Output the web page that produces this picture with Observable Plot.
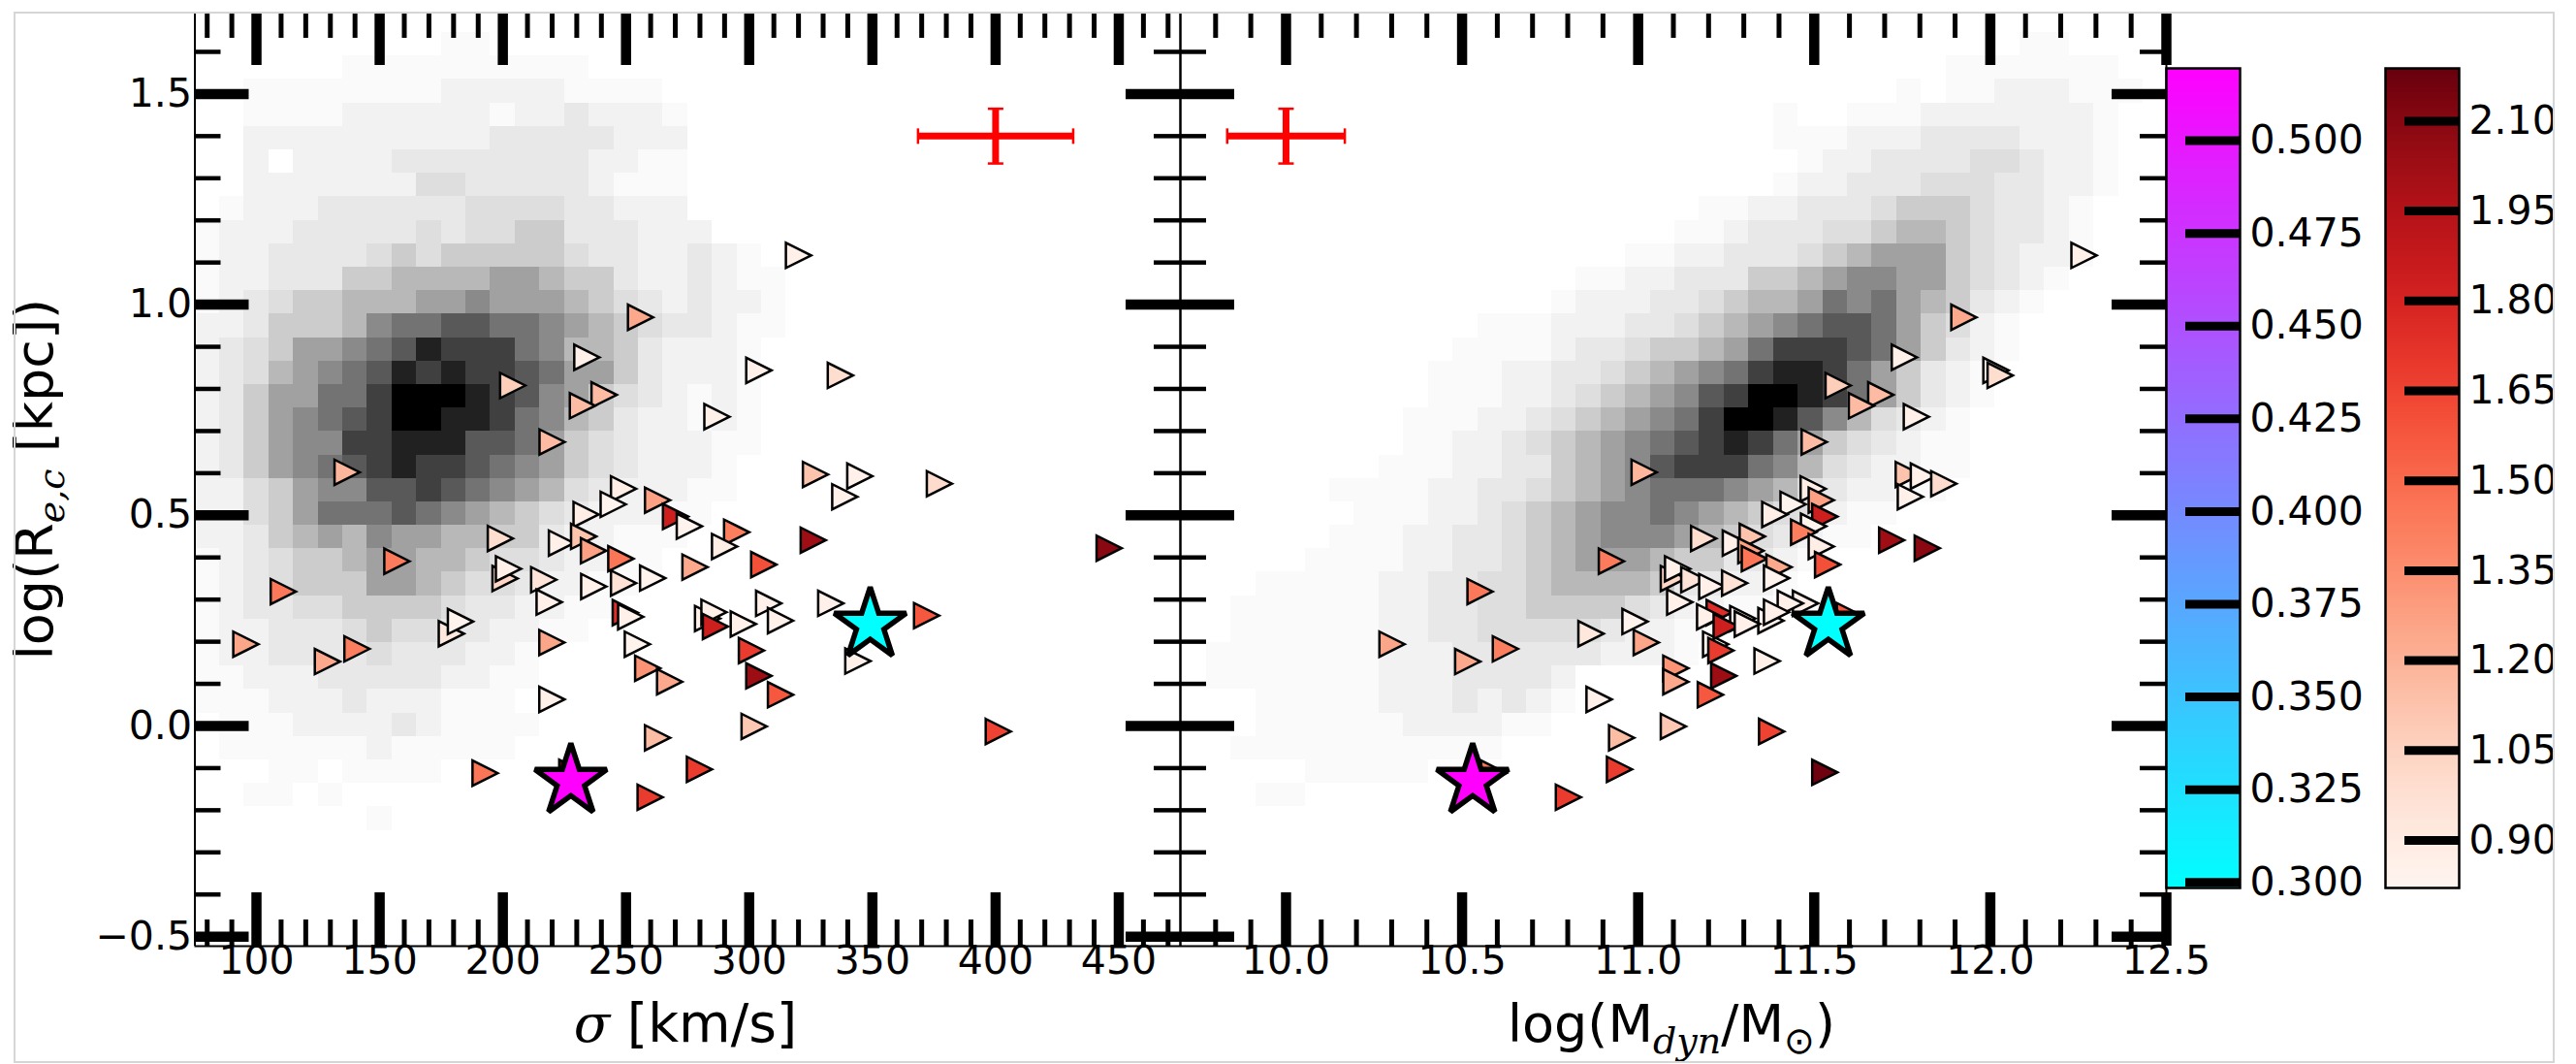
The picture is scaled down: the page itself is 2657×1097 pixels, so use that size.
<!DOCTYPE html>
<html><head><meta charset="utf-8">
<script src="https://cdn.jsdelivr.net/npm/d3@7"></script>
<script src="https://cdn.jsdelivr.net/npm/@observablehq/plot@0.6"></script>
<style>
html,body{margin:0;padding:0;background:#fff;}
#fig{position:relative;width:2657px;height:1097px;overflow:hidden;background:#fff;font-family:"DejaVu Sans";}
#fig svg{position:absolute;left:0;top:0;max-width:none !important;}
#fig text, #fig tspan{font-family:"DejaVu Sans" !important;}
#fig tspan.it{font-family:"DejaVu Serif" !important;font-style:italic;}
#cbwrap{position:absolute;left:0;top:0;width:2635px;height:1097px;overflow:hidden;}
#border{position:absolute;left:14px;top:12px;width:2621px;height:1084px;border:2px solid #d6d6d6;box-sizing:border-box;pointer-events:none;}
</style></head><body><div id="fig"><div id="cbwrap"></div><div id="border"></div></div>
<script>
// ---------------- data ----------------
const sigma = [320.0, 255.9, 234.1, 303.9, 337.0, 204.0, 241.1, 232.3, 286.9, 220.0,
  136.8, 326.9, 344.9, 338.8, 377.2, 249.0, 244.8, 262.8, 270.1, 275.7,
  233.8, 294.9, 290.0, 305.9, 326.0, 446.1, 199.0, 223.8, 232.8, 236.8,
  247.9, 278.0, 157.0, 110.9, 200.9, 202.3, 216.6, 236.9, 249.0, 260.8,
  218.8, 249.7, 251.9, 179.1, 182.8, 95.7, 128.8, 140.8, 219.9, 254.6,
  258.8, 267.7, 219.9, 262.8, 192.8, 259.8, 279.8, 228.0, 333.1, 307.9,
  312.7, 283.1, 285.7, 286.3, 297.6, 372.0, 344.1, 300.9, 303.9, 312.7,
  302.0, 401.1];
const logMdyn = [12.266, 11.925, 11.756, 12.016, 12.028, 11.568, 11.689, 11.634, 11.790, 11.500,
  11.017, 11.767, 11.810, 11.773, 11.868, 11.497, 11.440, 11.520, 11.530, 11.498,
  11.388, 11.470, 11.520, 11.538, 11.720, 11.821, 11.186, 11.276, 11.324, 11.320,
  11.330, 11.400, 10.924, 10.551, 11.100, 11.112, 11.158, 11.209, 11.274, 11.393,
  11.118, 11.230, 11.203, 10.866, 10.991, 10.301, 10.516, 10.623, 11.023, 11.220,
  11.107, 11.107, 10.889, 10.953, 10.590, 10.802, 10.947, 11.530, 11.475, 11.432,
  11.377, 11.297, 11.393, 11.250, 11.310, 11.600, 11.366, 11.235, 11.243, 11.205,
  11.100, 11.379];
const logRe = [1.117, 0.970, 0.875, 0.844, 0.832, 0.808, 0.786, 0.760, 0.734, 0.674,
  0.602, 0.597, 0.593, 0.544, 0.575, 0.563, 0.526, 0.536, 0.497, 0.474,
  0.502, 0.460, 0.426, 0.383, 0.441, 0.422, 0.445, 0.434, 0.450, 0.416,
  0.397, 0.377, 0.391, 0.319, 0.350, 0.373, 0.347, 0.331, 0.339, 0.351,
  0.294, 0.269, 0.259, 0.219, 0.248, 0.194, 0.153, 0.183, 0.198, 0.194,
  0.137, 0.105, 0.063, -0.028, -0.112, -0.169, -0.103, -0.110, 0.291, 0.291,
  0.250, 0.255, 0.270, 0.236, 0.242, 0.262, 0.154, 0.179, 0.119, 0.074,
  -0.001, -0.013];
const colorVal = [0.86, 1.24, 0.86, 0.86, 0.99, 1.07, 1.16, 1.16, 0.86, 1.16,
  1.18, 1.12, 0.86, 0.86, 1.00, 0.88, 0.84, 1.27, 1.83, 0.84,
  0.88, 1.42, 0.88, 1.60, 2.02, 2.09, 0.99, 0.86, 1.12, 1.27,
  1.45, 1.24, 1.43, 1.44, 1.03, 0.86, 0.95, 0.86, 0.96, 0.84,
  0.86, 1.75, 0.86, 0.93, 0.84, 1.25, 1.24, 1.42, 1.25, 0.84,
  1.33, 1.24, 0.86, 1.15, 1.45, 1.68, 1.68, 2.17, 0.86, 0.86,
  0.86, 0.86, 0.86, 1.83, 0.86, 1.57, 0.86, 1.68, 2.03, 1.57,
  1.10, 1.65];

// two highlighted objects (stars), coloured on the cyan-magenta bar
const starSigma = [227.6, 349.1];
const starLogM = [10.53, 11.54];
const starLogR = [-0.131, 0.240];
const starVal = [0.5195, 0.2985];

// typical error bars
const errSigma = [400.0], errSigmaErr = [31.5];
const errLogM = [10.0], errLogMErr = [0.167];
const errLogR = [1.40], errLogRErr = [0.065];

// background 2D histograms: row strings "startBin:levels", rows from top (first row top edge = histYTop)
const histLevelCodes = {".":0, "a":0.02, "b":0.05, "c":0.09, "1":0.13, "2":0.20, "3":0.28, "4":0.37,
  "5":0.46, "6":0.55, "7":0.65, "8":0.75, "9":0.87, "#":1.0};
const histYTop = 1.646, histDY = 0.0557;
const sigmaBin0 = 75, sigmaBinW = 10;
const massBin0 = 9.704, massBinW = 0.07;
const sigmaHistRows = [
"10:aa","6:aaaaaaaaaa","2:aaaaaaaabbbbbaaaa","2:aaaabbbbbbabbcbbba","2:bbbbbbbbbbcccccbbb",
"2:b.bbbbccccccccbbaa","2:bbbbbbb11cccccbaaa","1:abbbcccccc1111ccbbb","0:abbbccccc1c1122cccbbb",
"0:abbcccc121222221ccbbcba","0:abbccc22333344322cbbcbaa","0:abc122333445444321cbcbba",
"0:bbc2223566776654321ccbaa","0:bc1244567988865332cbbba","0:bc1345679898876442cbbba",
"0:bc244668###9875421cbaba","0:bc245678##9986532cbbaba","0:bc245588999776421cbbbaa",
"0:bc245678988765421cbbba","0:bb12455778765431cbbbaa","0:bb1246667654321cbbbaa",
"0:bbc23435443322cbbaaa","0:abc12234433211cbbaa","0:abc1222443211cbbaa","0:abcc1122221ccbbaa",
"0:abbccc1211ccbbaa","0:abbcccc1cccbba","0:aabbbcccccbbaa","0:aaabbbcbbbaaa","0:.aaabbbbcbaaaa",
"1:aaaaaabaaaaa","3:aa.aaaa","2:aa.a","7:a"];
const massHistRows = [
"34:aa","31:aaaaaaa","29:a.aabbbaaa","24:a..aaabbbbbbba","24:aaabbbccccbbba","25:abbcccc11cbba",
"24:abbccc111ccbba","21:aabbccc12221ccba","20:aabccc1123321ccba","18:aabbccc12344421cbba",
"16:aabbccc2234554421cba","15:abbbcc12334656432cba","12:aaabbbcc123456776421ba",
"11:aaaabcc1223468887642cba","10:aaabbcc1234568998642cba","10:aaabbc1234578##98642cba",
"9:aaabbc1234568##97531cba","9:aabbc12345678986421cbaa","8:aaabbcc234578886531cbbaa",
"6:aaaabbcc123456665431cbbaa","7:aaabbc1234556543211baa","6:aaabbcc12345554321cbaa",
"5:aaaabbcc123444322ccba","3:aaaaabbcc11233332ccbba","2:aaaaaabbcc1122221cbbaa",
"2:aaaaaabbcc11111cbbaa","1:aaaaaaabbbccccccbbba","1:aaaaaaabbbccccb","3:aaaaabbbcbcba",
"3:aaaaaabbbbaa","2:aaaaaaaaaaa","5:aaaaa","3:aa"];

// axes ticks
const yMajor = [-0.5, 0.0, 0.5, 1.0, 1.5];
const yMajorLabels = ["\u22120.5", "0.0", "0.5", "1.0", "1.5"];
const yMinor = [-0.4,-0.3,-0.2,-0.1,0.1,0.2,0.3,0.4,0.6,0.7,0.8,0.9,1.1,1.2,1.3,1.4,1.6];
const sigmaMajor = [100,150,200,250,300,350,400,450];
const sigmaMinor = [80,90,110,120,130,140,160,170,180,190,210,220,230,240,260,270,280,290,310,320,330,340,360,370,380,390,410,420,430,440,460,470];
const massMajor = [10.0,10.5,11.0,11.5,12.0,12.5];
const massMajorLabels = ["10.0","10.5","11.0","11.5","12.0","12.5"];
const massMinor = [9.8,9.9,10.1,10.2,10.3,10.4,10.6,10.7,10.8,10.9,11.1,11.2,11.3,11.4,11.6,11.7,11.8,11.9,12.1,12.2,12.3,12.4];
const coolTicks = [0.300,0.325,0.350,0.375,0.400,0.425,0.450,0.475,0.500];
const coolTickLabels = ["0.300","0.325","0.350","0.375","0.400","0.425","0.450","0.475","0.500"];
const redTicks = [0.90,1.05,1.20,1.35,1.50,1.65,1.80,1.95,2.10];
const redTickLabels = ["0.90","1.05","1.20","1.35","1.50","1.65","1.80","1.95","2.10"];
const coolDomain = [0.2985, 0.5195];
const redDomain = [0.8207, 2.188];

// ---------------- layout ----------------
const W = 2657, H = 1097;
const FT = 13, FB = 975;
const LX0 = 200.5, MX = 1217, RX1 = 2234;
const yDom = [-0.5226, 1.692];
const sigmaDom = [75, 475];
const massDom = [9.7, 12.5];
const STYLE = "background: transparent; overflow: visible; max-width: none; font-family: 'DejaVu Sans';";
const FONT = "DejaVu Sans";

const galaxies = sigma.map((s, i) => ({sigma: s, logM: logMdyn[i], logR: logRe[i], c: colorVal[i]}));
const stars = starSigma.map((s, i) => ({sigma: s, logM: starLogM[i], logR: starLogR[i], c: starVal[i]}));

function histCells(rows, x0, dx) {
  const cells = [];
  rows.forEach((row, k) => {
    const [start, codes] = row.split(":");
    const top = histYTop - histDY * k;
    [...codes].forEach((ch, i) => {
      const d = histLevelCodes[ch];
      if (d > 0) {
        const b = +start + i;
        cells.push({x1: x0 + dx * b, x2: x0 + dx * (b + 1), y1: top - histDY, y2: top, d});
      }
    });
  });
  return cells;
}

// marker shapes (fixed pixel geometry)
const TRI_H = 13, STAR_R = 39, CAP_R = 8;
const triRight = {draw(ctx) {
  const h = TRI_H;
  ctx.moveTo(h, 0); ctx.lineTo(-h, h); ctx.lineTo(-h, -h); ctx.closePath();
}};
const star5 = {draw(ctx) {
  const R = STAR_R, r = R * 0.381966;
  for (let k = 0; k < 10; ++k) {
    const a = -Math.PI / 2 + k * Math.PI / 5, rr = k % 2 ? r : R;
    const x = rr * Math.cos(a), y = rr * Math.sin(a);
    if (k) ctx.lineTo(x, y); else ctx.moveTo(x, y);
  }
  ctx.closePath();
}};
const vCap = {draw(ctx) { ctx.moveTo(0, -CAP_R); ctx.lineTo(0, CAP_R); }};
const hCap = {draw(ctx) { ctx.moveTo(-CAP_R, 0); ctx.lineTo(CAP_R, 0); }};

function frameMarks(xMajor, xMinor, xDom, plotW) {
  const plotH = FB - FT;
  return [
    Plot.tickX(xMinor, {x: d => d, insetTop: plotH - 27, strokeWidth: 5}),
    Plot.tickX(xMinor, {x: d => d, insetBottom: plotH - 26, strokeWidth: 5}),
    Plot.tickX(xMajor, {x: d => d, insetTop: plotH - 55, strokeWidth: 10.5}),
    Plot.tickX(xMajor, {x: d => d, insetBottom: plotH - 54, strokeWidth: 10.5}),
    Plot.tickY(yMinor, {y: d => d, insetRight: plotW - 27, strokeWidth: 4.5}),
    Plot.tickY(yMinor, {y: d => d, insetLeft: plotW - 27, strokeWidth: 4.5}),
    Plot.tickY(yMajor, {y: d => d, insetRight: plotW - 56, strokeWidth: 10.5}),
    Plot.tickY(yMajor, {y: d => d, insetLeft: plotW - 56, strokeWidth: 10.5}),
    Plot.ruleX(xDom, {stroke: "black", strokeWidth: 2}),
    Plot.ruleY([yDom[0]], {stroke: "black", strokeWidth: 2})
  ];
}

function panel({xKey, xDom, x0, x1, cells, xMajor, xMinor, xLabels, yLabels}) {
  const marks = [
    Plot.rect(cells, {x1: "x1", x2: "x2", y1: "y1", y2: "y2", fill: "black", fillOpacity: "d", shapeRendering: "crispEdges"}),
    Plot.dot(galaxies, {x: xKey, y: "logR", fill: "c", stroke: "black", strokeWidth: 2.5, r: TRI_H, symbol: triRight, strokeLinejoin: "miter", strokeMiterlimit: 4}),
    ...frameMarks(xMajor, xMinor, xDom, x1 - x0),
    Plot.text(xMajor, {x: d => d, text: (d, i) => xLabels[i], frameAnchor: "bottom", dy: 28, fontSize: 41, fontFamily: FONT})
  ];
  if (yLabels) marks.push(Plot.text(yMajor, {y: d => d, text: (d, i) => yLabels[i], frameAnchor: "left", textAnchor: "end", dx: -3, fontSize: 41, fontFamily: FONT}));
  return Plot.plot({
    width: W, height: H, marginLeft: x0, marginRight: W - x1, marginTop: FT, marginBottom: H - FB,
    style: STYLE,
    x: {domain: xDom, axis: null}, y: {domain: yDom, axis: null},
    color: {type: "linear", scheme: "reds", domain: redDomain},
    opacity: {type: "linear", domain: [0, 1], range: [0, 1]},
    marks
  });
}

function overlay({xKey, xDom, x0, x1, eb}) {
  return Plot.plot({
    width: W, height: H, marginLeft: x0, marginRight: W - x1, marginTop: FT, marginBottom: H - FB,
    style: STYLE,
    x: {domain: xDom, axis: null}, y: {domain: yDom, axis: null},
    color: {type: "linear", domain: coolDomain, range: ["#00ffff", "#ff00ff"], interpolate: "rgb"},
    marks: [
      Plot.dot(stars, {x: xKey, y: "logR", fill: "c", stroke: "black", strokeWidth: 5.5, r: STAR_R, symbol: star5, strokeLinejoin: "miter", strokeMiterlimit: 2}),
      Plot.ruleY(eb, {y: "y", x1: d => d.x - d.xe, x2: d => d.x + d.xe, stroke: "red", strokeWidth: 7}),
      Plot.ruleX(eb, {x: "x", y1: d => d.y - d.ye, y2: d => d.y + d.ye, stroke: "red", strokeWidth: 7}),
      Plot.dot(eb.flatMap(d => [{x: d.x - d.xe, y: d.y}, {x: d.x + d.xe, y: d.y}]), {x: "x", y: "y", symbol: vCap, r: CAP_R, stroke: "red", strokeWidth: 2.5}),
      Plot.dot(eb.flatMap(d => [{x: d.x, y: d.y - d.ye}, {x: d.x, y: d.y + d.ye}]), {x: "x", y: "y", symbol: hCap, r: CAP_R, stroke: "red", strokeWidth: 2.5})
    ]
  });
}

function colorbar({x0, x1, domain, colorOpts, ticks, labels}) {
  const n = 300;
  const strips = d3.range(n).map(i => ({v0: domain[0] + (domain[1] - domain[0]) * i / n, v1: domain[0] + (domain[1] - domain[0]) * (i + 1) / n}));
  return Plot.plot({
    width: W, height: H, marginLeft: x0, marginRight: W - x1, marginTop: 70, marginBottom: H - 915,
    style: STYLE,
    x: {domain: [0, 1], axis: null}, y: {domain, axis: null},
    color: colorOpts,
    marks: [
      Plot.rect(strips, {x1: 0, x2: 1, y1: "v0", y2: "v1", fill: d => (d.v0 + d.v1) / 2, shapeRendering: "crispEdges"}),
      Plot.tickY(ticks, {y: d => d, insetLeft: (x1 - x0) - 56, strokeWidth: 9}),
      Plot.frame({stroke: "black", strokeWidth: 2.5}),
      Plot.text(ticks, {y: d => d, text: (d, i) => labels[i], frameAnchor: "right", textAnchor: "start", dx: 10, fontSize: 41, fontFamily: FONT})
    ]
  });
}

function richText(svg, attrs, parts) {
  const t = d3.select(svg).append("text").attr("font-family", FONT);
  for (const [k, v] of Object.entries(attrs)) t.attr(k, v);
  for (const p of parts) {
    const s = t.append("tspan").text(p.text);
    if (p.dy) s.attr("dy", p.dy);
    if (p.italic) s.attr("class", "it");
    if (p.size) s.attr("font-size", p.size);
  }
}

const fig = document.getElementById("fig");
const cbwrap = document.getElementById("cbwrap");

const left = panel({xKey: "sigma", xDom: sigmaDom, x0: LX0, x1: MX,
  cells: histCells(sigmaHistRows, sigmaBin0, sigmaBinW),
  xMajor: sigmaMajor, xMinor: sigmaMinor, xLabels: sigmaMajor.map(String), yLabels: yMajorLabels});
const right = panel({xKey: "logM", xDom: massDom, x0: MX, x1: RX1,
  cells: histCells(massHistRows, massBin0, massBinW),
  xMajor: massMajor, xMinor: massMinor, xLabels: massMajorLabels, yLabels: null});
const leftTop = overlay({xKey: "sigma", xDom: sigmaDom, x0: LX0, x1: MX,
  eb: [{x: errSigma[0], xe: errSigmaErr[0], y: errLogR[0], ye: errLogRErr[0]}]});
const rightTop = overlay({xKey: "logM", xDom: massDom, x0: MX, x1: RX1,
  eb: [{x: errLogM[0], xe: errLogMErr[0], y: errLogR[0], ye: errLogRErr[0]}]});

richText(left, {x: 707, y: 1074, "text-anchor": "middle", "font-size": 55},
  [{text: "\u03c3", italic: true}, {text: " [km/s]"}]);
richText(left, {transform: "translate(54,494) rotate(-90)", "text-anchor": "middle", "font-size": 54},
  [{text: "log(R"}, {text: "e,c", italic: true, size: 38, dy: 12}, {text: " [kpc])", dy: -12}]);
richText(right, {x: 1724, y: 1074, "text-anchor": "middle", "font-size": 54},
  [{text: "log(M"}, {text: "dyn", italic: true, size: 38, dy: 12}, {text: "/M", dy: -12}, {text: "\u2299", size: 38, dy: 12}, {text: ")", dy: -12}]);

const cbCool = colorbar({x0: 2234, x1: 2310, domain: coolDomain,
  colorOpts: {type: "linear", domain: coolDomain, range: ["#00ffff", "#ff00ff"], interpolate: "rgb"},
  ticks: coolTicks, labels: coolTickLabels});
const cbRed = colorbar({x0: 2460, x1: 2536, domain: redDomain,
  colorOpts: {type: "linear", scheme: "reds", domain: redDomain},
  ticks: redTicks, labels: redTickLabels});

fig.insertBefore(left, cbwrap);
fig.insertBefore(right, cbwrap);
fig.insertBefore(leftTop, cbwrap);
fig.insertBefore(rightTop, cbwrap);
cbwrap.appendChild(cbCool);
cbwrap.appendChild(cbRed);
</script>
</body></html>
